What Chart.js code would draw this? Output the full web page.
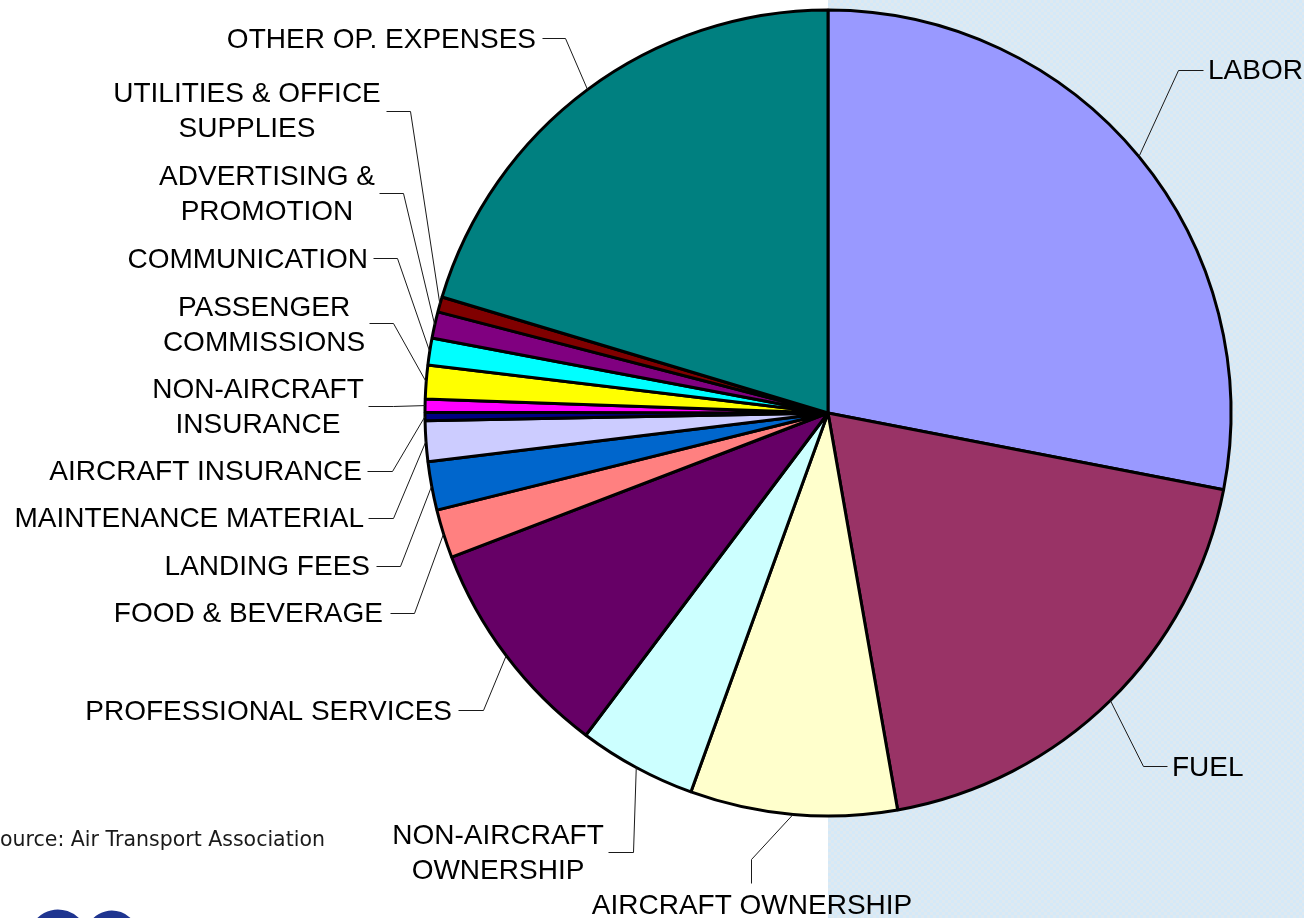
<!DOCTYPE html>
<html>
<head>
<meta charset="utf-8">
<script src="https://cdn.jsdelivr.net/npm/chart.js@4.4.1/dist/chart.umd.min.js"></script>
<style>
  html, body { margin: 0; padding: 0; background: #fff; overflow: hidden; }
  #wrap { width: 1304px; height: 918px; }
</style>
</head>
<body>
<div id="wrap"><canvas id="costChart" width="1304" height="918"></canvas></div>
<script>
// airline operating cost shares, %
const categories = [
  "LABOR", "FUEL", "AIRCRAFT OWNERSHIP", "NON-AIRCRAFT OWNERSHIP",
  "PROFESSIONAL SERVICES", "FOOD & BEVERAGE", "LANDING FEES",
  "MAINTENANCE MATERIAL", "AIRCRAFT INSURANCE", "NON-AIRCRAFT INSURANCE",
  "PASSENGER COMMISSIONS", "COMMUNICATION", "ADVERTISING & PROMOTION",
  "UTILITIES & OFFICE SUPPLIES", "OTHER OP. EXPENSES"
];
const shares = [28.05, 19.18, 8.29, 4.73, 8.92, 1.95, 1.94, 1.63, 0.33, 0.53, 1.34, 1.08, 1.06, 0.61, 20.35];
const labelLines = [
  ["LABOR"], ["FUEL"], ["AIRCRAFT OWNERSHIP"], ["NON-AIRCRAFT", "OWNERSHIP"],
  ["PROFESSIONAL SERVICES"], ["FOOD & BEVERAGE"], ["LANDING FEES"],
  ["MAINTENANCE MATERIAL"], ["AIRCRAFT INSURANCE"], ["NON-AIRCRAFT", "INSURANCE"],
  ["PASSENGER", "COMMISSIONS"], ["COMMUNICATION"], ["ADVERTISING &", "PROMOTION"],
  ["UTILITIES & OFFICE", "SUPPLIES"], ["OTHER OP. EXPENSES"]
];
const sliceColors = [
  "#9999FF", "#993366", "#FFFFCC", "#CCFFFF", "#660066", "#FF8080", "#0066CC",
  "#CCCCFF", "#000080", "#FF00FF", "#FFFF00", "#00FFFF", "#800080", "#800000", "#008080"
];

// where each label sits and how its leader bends (last leg goes to the slice edge)
const labelLayout = [
  { x: 1208, y: 69,  align: "left",   path: [[1203, 70], [1178, 70]] },
  { x: 1172, y: 766, align: "left",   path: [[1167, 766], [1143, 766]] },
  { x: 752,  y: 904, align: "center", path: [[751, 883], [751, 859]] },
  { x: 498,  y: 834, align: "center", path: [[608, 852], [633, 852]] },
  { x: 452,  y: 710, align: "right",  path: [[458, 710], [483, 710]] },
  { x: 383,  y: 612, align: "right",  path: [[390, 613], [414, 613]] },
  { x: 370,  y: 565, align: "right",  path: [[376, 566], [400, 566]] },
  { x: 364,  y: 517, align: "right",  path: [[368, 518], [393, 518]] },
  { x: 362,  y: 470, align: "right",  path: [[367, 471], [392, 471]] },
  { x: 258,  y: 388, align: "center", path: [[368, 406], [393, 406]] },
  { x: 264,  y: 306, align: "center", path: [[369, 323], [393, 323]] },
  { x: 368,  y: 258, align: "right",  path: [[373, 258], [397, 258]] },
  { x: 267,  y: 175, align: "center", path: [[379, 193], [403, 193]] },
  { x: 247,  y: 92,  align: "center", path: [[386, 111], [410, 111]] },
  { x: 536,  y: 38,  align: "right",  path: [[542, 38], [565, 38]] }
];

const LABEL_FONT_SIZE = 28;
const LINE_GAP = 34.5;

function makeBackdropPattern(ctx) {
  const tile = document.createElement("canvas");
  tile.width = 6;
  tile.height = 6;
  const t = tile.getContext("2d");
  t.fillStyle = "#d4e9f8";
  t.fillRect(0, 0, 6, 6);
  t.fillStyle = "#dfe9f0";
  t.fillRect(0, 0, 3, 3);
  t.fillRect(3, 3, 3, 3);
  return ctx.createPattern(tile, "repeat");
}

const backdropPlugin = {
  id: "backdrop",
  beforeDraw(chart) {
    const ctx = chart.ctx;
    ctx.save();
    ctx.fillStyle = "#ffffff";
    ctx.fillRect(0, 0, chart.width, chart.height);
    ctx.fillStyle = makeBackdropPattern(ctx);
    ctx.fillRect(828, 0, chart.width - 828, chart.height);
    ctx.restore();
  }
};

const calloutPlugin = {
  id: "callouts",
  afterDraw(chart) {
    const ctx = chart.ctx;
    const arcs = chart.getDatasetMeta(0).data;
    ctx.save();

    arcs.forEach((arc, i) => {
      const layout = labelLayout[i];
      const p = arc.getProps(["x", "y", "startAngle", "endAngle", "outerRadius"], true);
      const mid = (p.startAngle + p.endAngle) / 2;
      const edgeX = p.x + Math.cos(mid) * p.outerRadius;
      const edgeY = p.y + Math.sin(mid) * p.outerRadius;

      ctx.strokeStyle = "#1a1a1a";
      ctx.lineWidth = 1;
      ctx.beginPath();
      ctx.moveTo(layout.path[0][0] + 0.5, layout.path[0][1] + 0.5);
      layout.path.slice(1).forEach(pt => ctx.lineTo(pt[0] + 0.5, pt[1] + 0.5));
      ctx.lineTo(edgeX, edgeY);
      ctx.stroke();

      ctx.fillStyle = "#000000";
      ctx.font = `${LABEL_FONT_SIZE}px "Liberation Sans", Arial, sans-serif`;
      ctx.textAlign = layout.align;
      ctx.textBaseline = "alphabetic";
      labelLines[i].forEach((line, k) => {
        ctx.fillText(line, layout.x, layout.y + k * LINE_GAP + LABEL_FONT_SIZE * 0.36);
      });
    });

    // source note, cut at the left edge as in the slide
    ctx.fillStyle = "#1a1a1a";
    ctx.font = '20.5px "DejaVu Sans", Verdana, sans-serif';
    ctx.textAlign = "left";
    ctx.fillText("Source: Air Transport Association", -13, 846);

    // top of the logo peeking in at the bottom
    ctx.strokeStyle = "#1f3590";
    ctx.lineWidth = 9;
    ctx.beginPath();
    ctx.ellipse(58, 942, 26, 28, 0, Math.PI * 1.1, Math.PI * 1.9);
    ctx.stroke();
    ctx.beginPath();
    ctx.ellipse(112, 942, 24, 27, 0, Math.PI * 1.1, Math.PI * 1.95);
    ctx.stroke();

    ctx.restore();
  }
};

new Chart(document.getElementById("costChart"), {
  type: "pie",
  data: {
    labels: categories,
    datasets: [{
      data: shares,
      backgroundColor: sliceColors,
      borderColor: "#000000",
      borderWidth: 3,
      hoverOffset: 0
    }]
  },
  options: {
    responsive: false,
    devicePixelRatio: 1,
    animation: false,
    radius: 403,
    layout: { padding: { left: 352, right: 0, top: 0, bottom: 92 } },
    plugins: {
      legend: { display: false },
      tooltip: { enabled: false }
    },
    events: []
  },
  plugins: [backdropPlugin, calloutPlugin]
});
</script>
</body>
</html>
